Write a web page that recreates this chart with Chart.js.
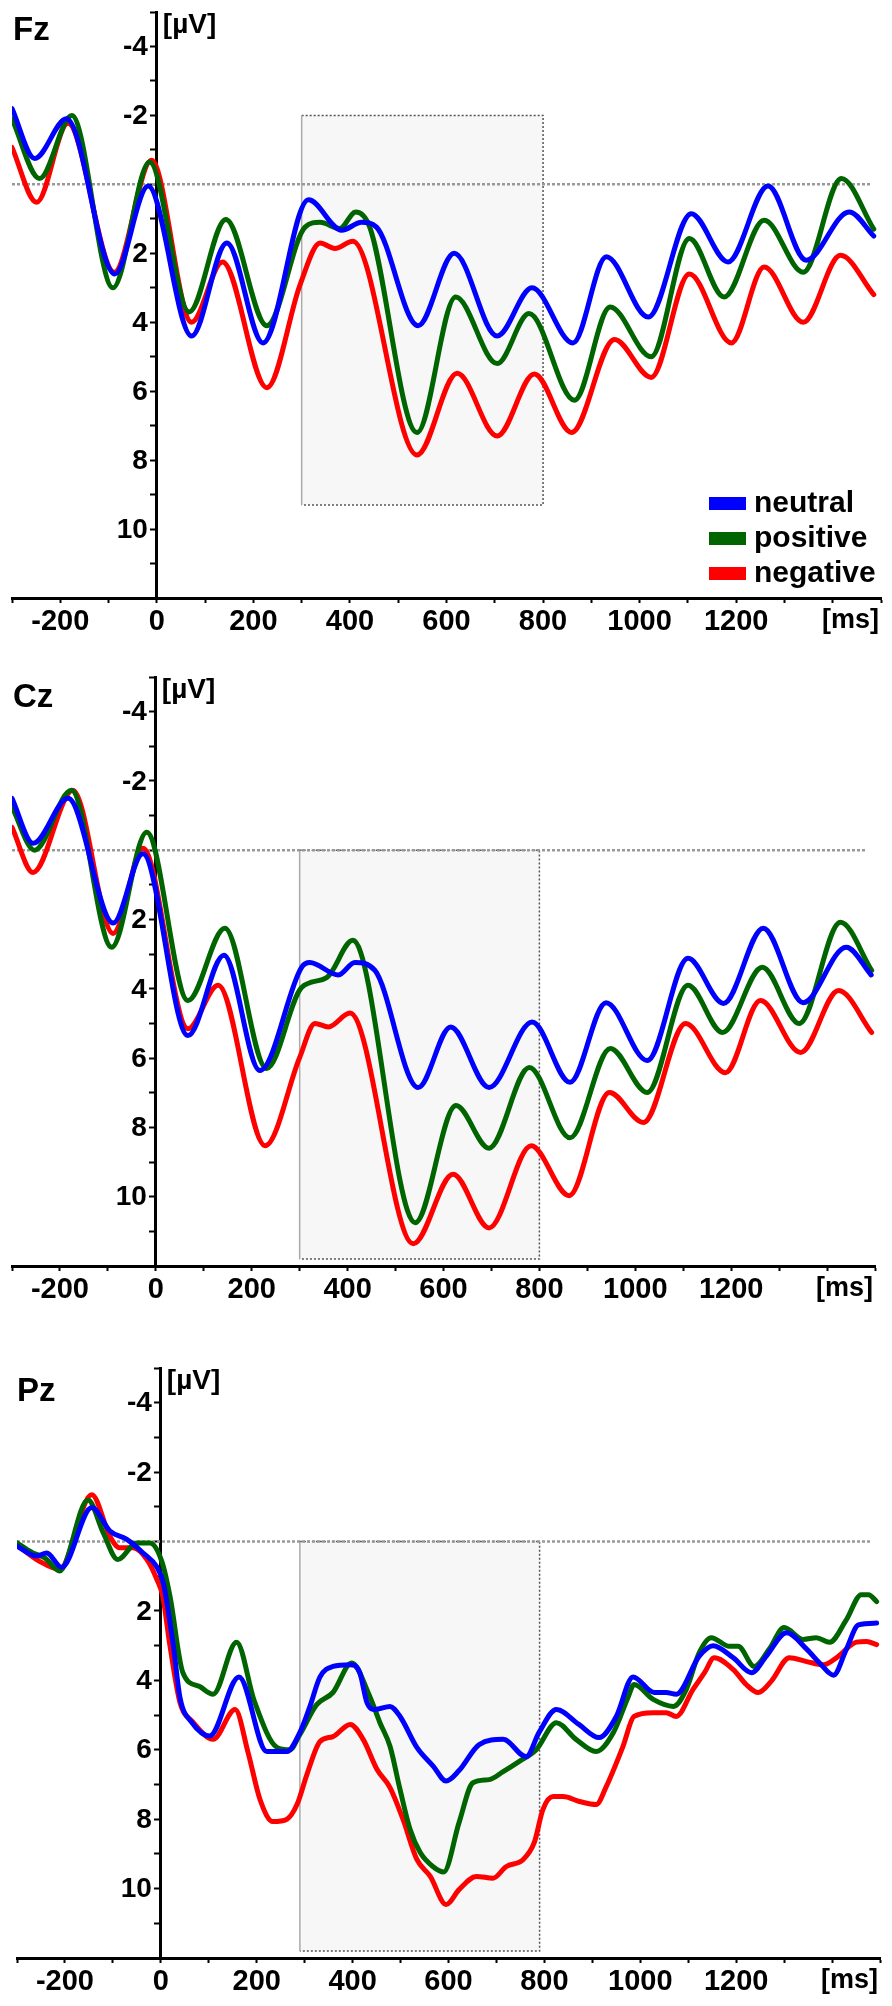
<!DOCTYPE html>
<html>
<head>
<meta charset="utf-8">
<title>ERP Fz Cz Pz</title>
<script src="https://cdn.jsdelivr.net/npm/chart.js@4.4.1/dist/chart.umd.min.js"></script>
<style>
  html, body { margin: 0; padding: 0; background: #fff; }
  body { width: 892px; height: 2006px; position: relative; overflow: hidden; }
  canvas { position: absolute; left: 0; }
  #fz { top: 0; }
  #cz { top: 666px; }
  #pz { top: 1356px; }
</style>
</head>
<body>
<canvas id="fz" width="892" height="646"></canvas>
<canvas id="cz" width="892" height="648"></canvas>
<canvas id="pz" width="892" height="650"></canvas>
<script>
// labels
const panelNames = ['Fz', 'Cz', 'Pz'];
const seriesNames = ['neutral', 'positive', 'negative'];
const xTickLabels = [-200, 0, 200, 400, 600, 800, 1000, 1200];
const yTickLabels = [-4, -2, 2, 4, 6, 8, 10];

// Fz (ms / µV)
const fzNeutralMs = [-300, -253, -187, -87, -18, 72, 145, 220, 314, 383, 424, 455, 541, 616, 705, 777, 862, 931, 1018, 1107, 1183, 1266, 1345, 1434, 1485];
const fzNeutralUv = [-2.2, -0.75, -1.9, 2.6, 0.05, 4.4, 1.7, 4.6, 0.45, 1.33, 1.1, 1.24, 4.1, 2.0, 4.4, 3.0, 4.6, 2.1, 3.85, 0.85, 2.25, 0.05, 2.2, 0.8, 1.5];
const fzPositiveMs = [-300, -243, -176, -91, -15, 67, 143, 228, 307, 338, 379, 412, 441, 539, 619, 705, 771, 865, 939, 1024, 1103, 1175, 1258, 1339, 1418, 1485];
const fzPositiveUv = [-1.9, -0.17, -2.0, 3.0, -0.65, 3.7, 1.02, 4.1, 1.24, 1.1, 1.28, 0.8, 1.24, 7.2, 3.27, 5.2, 3.75, 6.26, 3.56, 5.0, 1.57, 3.27, 1.04, 2.55, -0.17, 1.3];
const fzNegativeMs = [-300, -249, -184, -88, -11, 72, 136, 228, 297, 338, 369, 406, 539, 622, 705, 782, 859, 948, 1024, 1103, 1190, 1258, 1339, 1416, 1485];
const fzNegativeUv = [-1.07, 0.52, -1.77, 2.55, -0.7, 4.0, 2.25, 5.9, 2.9, 1.7, 1.86, 1.65, 7.85, 5.48, 7.3, 5.5, 7.2, 4.5, 5.6, 2.6, 4.6, 2.4, 4.0, 2.06, 3.2];

// Cz
const czNeutralMs = [-300, -256, -183, -89, -27, 67, 142, 217, 304, 321, 381, 415, 457, 547, 615, 695, 785, 864, 939, 1025, 1110, 1184, 1267, 1350, 1440, 1492];
const czNeutralUv = [-1.5, -0.2, -1.5, 2.1, 0.1, 5.35, 3.03, 6.36, 3.38, 3.24, 3.6, 3.24, 3.47, 6.85, 5.1, 6.85, 4.96, 6.7, 4.4, 6.07, 3.12, 4.42, 2.25, 4.4, 2.8, 3.6];
const czPositiveMs = [-300, -253, -176, -92, -19, 67, 144, 231, 304, 357, 411, 541, 626, 695, 779, 864, 948, 1025, 1110, 1182, 1265, 1342, 1428, 1493];
const czPositiveUv = [-1.25, 0.0, -1.73, 2.8, -0.52, 4.34, 2.25, 6.3, 3.96, 3.67, 2.6, 10.75, 7.37, 8.6, 6.27, 8.3, 5.72, 6.99, 3.9, 5.26, 3.38, 5.0, 2.08, 3.47];
const czNegativeMs = [-300, -256, -173, -89, -27, 67, 130, 228, 300, 332, 360, 405, 537, 620, 695, 783, 862, 946, 1017, 1105, 1188, 1261, 1345, 1424, 1493];
const czNegativeUv = [-0.66, 0.64, -1.73, 2.4, -0.06, 5.15, 3.9, 8.53, 5.98, 5.0, 5.1, 4.7, 11.36, 9.35, 10.9, 8.53, 9.97, 6.99, 7.86, 5.0, 6.42, 4.34, 5.84, 4.05, 5.26];

// Pz
const pzNeutralMs = [-300, -259, -238, -207, -144, -106, -71, -37, -9, 5, 26, 40, 64, 102, 163, 221, 263, 290, 311, 332, 359, 395, 415, 430, 447, 478, 499, 534, 568, 595, 622, 664, 714, 762, 789, 825, 872, 914, 950, 985, 1029, 1054, 1075, 1123, 1152, 1194, 1232, 1263, 1305, 1347, 1374, 1403, 1430, 1455, 1493];
const pzNeutralUv = [0.13, 0.42, 0.33, 0.74, -0.98, -0.3, -0.06, 0.33, 0.72, 1.19, 3.0, 4.5, 5.2, 5.6, 3.9, 6.05, 6.05, 5.5, 4.75, 3.9, 3.6, 3.55, 3.78, 4.64, 4.84, 4.75, 5.04, 5.93, 6.47, 6.9, 6.6, 5.85, 5.7, 6.2, 5.5, 4.84, 5.27, 5.65, 5.04, 3.9, 4.35, 4.35, 4.4, 3.3, 3.0, 3.35, 3.78, 3.3, 2.63, 3.1, 3.5, 3.85, 3.1, 2.4, 2.35];
const pzPositiveMs = [-300, -267, -242, -211, -152, -120, -90, -50, -23, 2, 19, 46, 81, 109, 158, 195, 242, 269, 290, 325, 359, 398, 436, 457, 478, 499, 520, 541, 568, 590, 622, 651, 685, 714, 747, 783, 825, 866, 908, 944, 975, 987, 1027, 1069, 1096, 1123, 1148, 1186, 1204, 1238, 1269, 1300, 1340, 1367, 1395, 1430, 1461, 1476, 1493];
const pzPositiveUv = [0.04, 0.33, 0.47, 0.85, -1.2, -0.25, 0.52, 0.04, 0.04, 0.57, 1.57, 3.78, 4.18, 4.4, 2.9, 4.6, 5.93, 6.0, 5.56, 4.7, 4.35, 3.5, 4.47, 5.22, 5.9, 7.15, 8.3, 8.96, 9.37, 9.52, 8.1, 6.95, 6.86, 6.63, 6.34, 6.0, 5.22, 5.7, 6.05, 5.5, 4.47, 4.12, 4.55, 4.75, 4.26, 3.2, 2.77, 3.02, 3.02, 3.6, 3.1, 2.48, 2.82, 2.77, 2.9, 2.25, 1.53, 1.53, 1.73];
const pzNegativeMs = [-300, -253, -211, -144, -106, -86, -58, -29, -8, 4, 19, 40, 67, 109, 155, 182, 207, 234, 263, 284, 305, 332, 359, 395, 422, 451, 478, 505, 534, 562, 595, 622, 658, 693, 720, 756, 779, 797, 818, 839, 873, 908, 929, 964, 987, 1027, 1054, 1075, 1110, 1134, 1154, 1194, 1221, 1246, 1273, 1311, 1347, 1382, 1409, 1451, 1472, 1493];
const pzNegativeUv = [0.1, 0.57, 0.8, -1.35, -0.14, 0.18, 0.18, 0.52, 1.1, 1.58, 3.0, 4.64, 5.2, 5.7, 4.84, 6.08, 7.44, 8.07, 8.0, 7.58, 6.7, 5.76, 5.62, 5.27, 5.7, 6.57, 7.09, 8.0, 9.16, 9.65, 10.46, 10.03, 9.65, 9.7, 9.37, 9.16, 8.67, 7.72, 7.35, 7.35, 7.49, 7.58, 7.06, 5.9, 5.04, 4.93, 4.93, 5.04, 4.26, 3.78, 3.35, 3.69, 4.12, 4.35, 4.03, 3.35, 3.46, 3.55, 3.35, 2.9, 2.88, 2.97];

const lineColors = ['#0000ff', '#006400', '#ff0000'];
const FONT = '"Liberation Sans", Arial, Helvetica, sans-serif';

const makeSeries = (ms, uv) => ms.map((t, i) => ({ x: t, y: uv[i] }));

// shaded time window, zero line, panel texts, y labels, legend
const erpDecor = {
    id: 'erpDecor',
    beforeDatasetsDraw(chart, args, opts) {
        const { ctx, scales: { x, y } } = chart;
        const x0 = x.getPixelForValue(opts.win[0]);
        const x1 = x.getPixelForValue(opts.win[1]);
        const y0 = y.getPixelForValue(opts.winUv[0]);
        const y1 = y.getPixelForValue(opts.winUv[1]);
        ctx.save();
        ctx.fillStyle = '#f7f7f7';
        ctx.fillRect(x0, y0, x1 - x0, y1 - y0);
        ctx.lineWidth = 1.5;
        ctx.strokeStyle = '#555';
        ctx.setLineDash([2, 2]);
        ctx.beginPath();
        ctx.moveTo(x0, y0); ctx.lineTo(x1, y0); ctx.lineTo(x1, y1); ctx.lineTo(x0, y1);
        ctx.stroke();
        ctx.setLineDash([]);
        ctx.strokeStyle = '#aaa';
        ctx.beginPath();
        ctx.moveTo(x0, y0); ctx.lineTo(x0, y1);
        ctx.stroke();
        // zero line
        const yz = y.getPixelForValue(0);
        ctx.strokeStyle = '#999';
        ctx.lineWidth = 2.5;
        ctx.setLineDash([3, 2]);
        ctx.beginPath();
        ctx.moveTo(x.getPixelForValue(-300), yz);
        ctx.lineTo(x.getPixelForValue(1480), yz);
        ctx.stroke();
        ctx.restore();
    },
    afterDraw(chart, args, opts) {
        const { ctx, chartArea, scales: { x, y } } = chart;
        const x0 = x.getPixelForValue(0);
        ctx.save();
        ctx.fillStyle = '#000';
        // y tick labels, left of the axis that crosses at 0 ms
        ctx.font = 'bold 28px ' + FONT;
        ctx.textAlign = 'right';
        ctx.textBaseline = 'middle';
        yTickLabels.forEach(v => ctx.fillText(String(v), x0 - 9, y.getPixelForValue(v) + 1));

        ctx.textBaseline = 'alphabetic';
        ctx.textAlign = 'left';
        ctx.font = 'bold 33px ' + FONT;
        ctx.fillText(opts.name, opts.nameX, chartArea.top + opts.nameDy);
        ctx.font = 'bold 28px ' + FONT;
        ctx.fillText('[µV]', x0 + 6, chartArea.top + 21);
        ctx.textAlign = 'right';
        ctx.font = 'bold 27px ' + FONT;
        ctx.fillText('[ms]', chartArea.right - 2, chartArea.bottom + 30);
        if (opts.legend) {
            ctx.textAlign = 'left';
            ctx.font = 'bold 30px ' + FONT;
            chart.data.datasets.forEach((ds, i) => {
                const base = chartArea.bottom - 86 + i * 35;
                ctx.fillStyle = ds.borderColor;
                ctx.fillRect(chartArea.right - 172, base - 15, 37, 13);
                ctx.fillStyle = '#000';
                ctx.fillText(ds.label, chartArea.right - 127, base);
            });
        }
        ctx.restore();
    }
};

function buildChart(canvasId, panel) {
    const ctx = document.getElementById(canvasId).getContext('2d');
    return new Chart(ctx, {
        type: 'line',
        data: {
            datasets: panel.series.map((s, i) => ({
                label: seriesNames[i],
                data: makeSeries(s[0], s[1]),
                borderColor: lineColors[i],
                borderWidth: 5,
                pointRadius: 0,
                tension: 0.4,
                cubicInterpolationMode: 'monotone',
                borderCapStyle: 'round',
                borderJoinStyle: 'round',
                fill: false
            }))
        },
        plugins: [erpDecor],
        options: {
            responsive: false,
            animation: false,
            layout: { padding: panel.pad },
            font: { family: FONT },
            scales: {
                x: {
                    type: 'linear',
                    min: -300,
                    max: 1500,
                    position: 'bottom',
                    border: { display: true, color: '#000', width: 3 },
                    grid: { drawOnChartArea: false, drawTicks: true, tickLength: 5, tickColor: '#000', tickWidth: 2 },
                    ticks: {
                        stepSize: 100,
                        autoSkip: false,
                        maxRotation: 0,
                        padding: 2,
                        color: '#000',
                        font: { family: FONT, size: 29, weight: 'bold' },
                        callback: v => xTickLabels.includes(v) ? String(v) : ''
                    },
                    afterFit: scale => {
                        scale.height = 48;
                        scale.paddingLeft = 0;
                        scale.paddingRight = 0;
                    }
                },
                y: {
                    type: 'linear',
                    min: -5,
                    max: 12,
                    reverse: true,
                    position: { x: 0 },
                    border: { display: true, color: '#000', width: 3 },
                    grid: { drawOnChartArea: false, drawTicks: true, tickLength: 5, tickColor: '#000', tickWidth: 2 },
                    ticks: {
                        stepSize: 1,
                        autoSkip: false,
                        display: false
                    },
                    afterFit: scale => {
                        scale.paddingTop = 0;
                        scale.paddingBottom = 0;
                    }
                }
            },
            plugins: {
                legend: { display: false },
                tooltip: { enabled: false },
                title: { display: false },
                erpDecor: {
                    name: panel.name,
                    nameX: panel.nameX,
                    nameDy: panel.nameDy,
                    win: panel.win,
                    winUv: panel.winUv,
                    legend: panel.legend
                }
            }
        }
    });
}

buildChart('fz', {
    name: panelNames[0], nameX: 13, nameDy: 28,
    series: [[fzNeutralMs, fzNeutralUv], [fzPositiveMs, fzPositiveUv], [fzNegativeMs, fzNegativeUv]],
    win: [300, 800], winUv: [-2, 9.3], legend: true,
    pad: { left: 12, right: 11, top: 12, bottom: 0 }
});
buildChart('cz', {
    name: panelNames[1], nameX: 13, nameDy: 30,
    series: [[czNeutralMs, czNeutralUv], [czPositiveMs, czPositiveUv], [czNegativeMs, czNegativeUv]],
    win: [300, 800], winUv: [0, 11.8], legend: false,
    pad: { left: 12, right: 17, top: 11, bottom: 0 }
});
buildChart('pz', {
    name: panelNames[2], nameX: 17, nameDy: 33,
    series: [[pzNeutralMs, pzNeutralUv], [pzPositiveMs, pzPositiveUv], [pzNegativeMs, pzNegativeUv]],
    win: [290, 790], winUv: [0, 11.8], legend: false,
    pad: { left: 17, right: 12, top: 12, bottom: 0 }
});
</script>
</body>
</html>
